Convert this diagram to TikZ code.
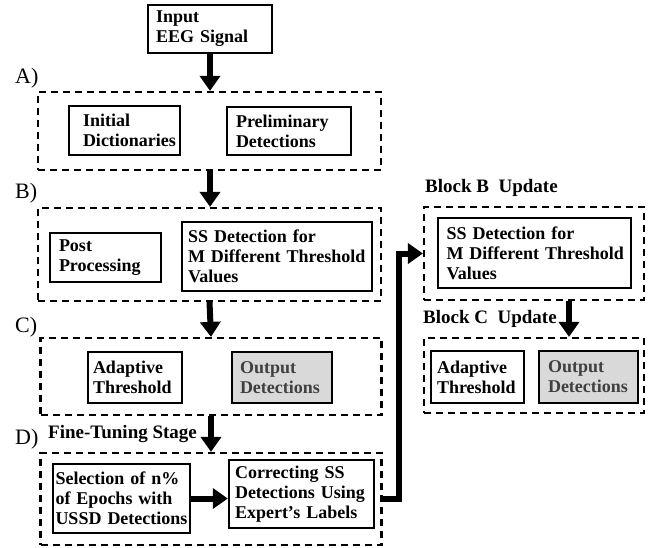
\documentclass[tikz,border=0pt]{standalone}
\usepackage{fontspec}
\setmainfont{Liberation Serif}
\usetikzlibrary{positioning,arrows.meta}

\tikzset{
  box/.style={draw,line width=2.4pt,font=\fontsize{18}{20}\selectfont\bfseries,align=left,inner xsep=6pt,inner ysep=0pt,anchor=center},
  outbox/.style={box,fill=black!15,text=black!75},
  block/.style={draw,dashed,dash pattern=on 7pt off 5pt,line width=2.2pt,inner sep=0pt},
  tag/.style={font=\fontsize{22}{24}\selectfont,inner sep=0pt},
  head/.style={font=\fontsize{19}{20}\selectfont\bfseries,inner sep=0pt},
  arr/.style={-{Triangle[length=15pt,width=20pt]},line width=6pt},
}

\begin{document}
\begin{tikzpicture}[x=1pt,y=-1pt]
\useasboundingbox (0,0) rectangle (655,548);
% dashed blocks
\node[block,minimum width=343,minimum height=78] (blkA) at (209.5,131) {};
\node[block,minimum width=343,minimum height=93] (blkB) at (209.5,254.5) {};
\node[block,minimum width=341,minimum height=77] (blkC) at (211,376.5) {};
\node[block,minimum width=341,minimum height=92] (blkD) at (211,499) {};
\node[block,minimum width=220,minimum height=93] (updB) at (534,253.5) {};
\node[block,minimum width=220,minimum height=75] (updC) at (534,375.5) {};
% labels
\node[tag,anchor=base west] (tA) at (15,84) {A)};
\node[tag,anchor=base west] (tB) at (15,198) {B)};
\node[tag,anchor=base west] (tC) at (15,332) {C)};
\node[tag,anchor=base west] (tD) at (15,444) {D)};
\node[head,anchor=base west] (fine) at (48,438) {Fine-Tuning Stage};
\node[head,anchor=base west] (hB) at (425,193) {Block B\ \ Update};
\node[head,anchor=base west] (hC) at (423,323) {Block C\ \ Update};
% boxes
\node[box,text width=108,minimum height=48,inner xsep=8pt] (inp) at (210,29) {Input\\EEG Signal};
\node[box,text width=103,minimum height=49,inner xsep=4pt] (dict) at (124.5,130.5) {\hspace*{10pt}Initial\\\hspace*{10pt}Dictionaries};
\node[box,text width=106,minimum height=48,inner xsep=9pt] (prel) at (289,131) {Preliminary\\Detections};
\node[box,text width=93,minimum height=49,inner xsep=9pt] (post) at (105.5,257.5) {Post\\Processing};
\node[box,text width=178,minimum height=69] (ssB) at (277,256.5) {SS Detection for\\M Different Threshold\\Values};
\node[box,text width=84,minimum height=51,inner xsep=5pt] (adC) at (135,377.5) {Adaptive\\Threshold};
\node[outbox,text width=84,minimum height=51,inner xsep=8pt] (outC) at (282,377.5) {Output\\Detections};
\node[box,text width=132,minimum height=69,inner xsep=2.5pt] (sel) at (121.5,498.5) {Selection of n\%\\of Epochs with\\USSD Detections};
\node[box,text width=133,minimum height=68] (cor) at (301.5,494) {Correcting SS\\Detections Using\\Expert's Labels};
\node[box,text width=182,minimum height=70,inner xsep=5.5pt] (ssU) at (534.5,253) {\hspace*{3pt}SS Detection for\\\hspace*{3pt}M Different Threshold\\\hspace*{3pt}Values};
\node[box,text width=81,minimum height=52] (adU) at (477.5,377) {Adaptive\\Threshold};
\node[outbox,text width=81,minimum height=52,inner xsep=9pt] (outU) at (588.5,377) {Output\\Detections};
% arrows
\draw[arr] (inp.south) -- (inp.south |- blkA.north);
\draw[arr] (inp.south |- blkA.south) -- (inp.south |- blkB.north);
\draw[arr] (blkB.south) -- (blkC.north);
\draw[arr] (blkC.south) -- (blkD.north);
\draw[arr] (sel.east) -- (sel.east -| cor.west);
\draw[arr] (blkD.east) -- ++(16,0) |- (updB.west);
\draw[arr] ([xshift=35pt]updB.south) -- ([xshift=35pt]updC.north);
\end{tikzpicture}
\end{document}
